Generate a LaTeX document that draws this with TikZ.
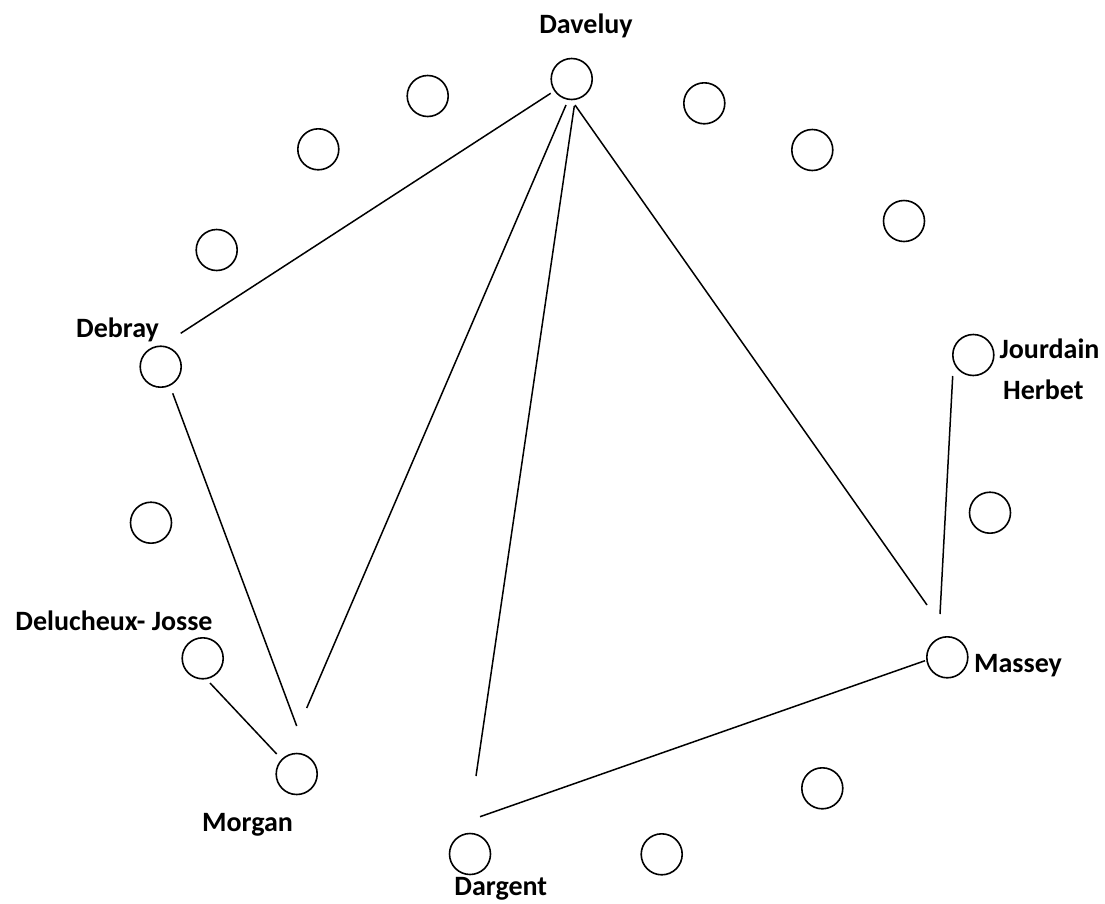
\documentclass[tikz,border=0pt]{standalone}
\usepackage{fontspec}
\setmainfont{Carlito}
\usetikzlibrary{calc}
\begin{document}
\begin{tikzpicture}[x=1pt,y=-1pt,
  actor/.style={circle,draw,line width=1.6pt,minimum size=41pt,inner sep=0pt},
  tie/.style={line width=1.5pt},
  lbl/.style={anchor=base,inner sep=0pt,font=\fontsize{28}{32}\selectfont\bfseries}]
\useasboundingbox (0,0) rectangle (1105,903);
% circles
\node[actor] (dav) at (571.7,79) {};
\node[actor] (c1) at (427.7,96) {};
\node[actor] (c2) at (318.3,149.3) {};
\node[actor] (c3) at (216.7,250) {};
\node[actor] (deb) at (160.7,366.7) {};
\node[actor] (c4) at (151,522.7) {};
\node[actor] (del) at (202.7,658.3) {};
\node[actor] (mor) at (296.7,774) {};
\node[actor] (dar) at (470,854) {};
\node[actor] (c5) at (661.7,854.3) {};
\node[actor] (c6) at (822.3,788.3) {};
\node[actor] (mas) at (947.3,657.3) {};
\node[actor] (c7) at (990,512.7) {};
\node[actor] (jou) at (973.3,355) {};
\node[actor] (c8) at (904,221) {};
\node[actor] (c9) at (812.3,150) {};
\node[actor] (c10) at (704.3,103.3) {};
% labels
\node[lbl] (ldav) at (586,33.3) {Daveluy};
\node[lbl] (ldeb) at (117.5,337.3) {Debray};
\node[lbl] (ldel) at (114,630.7) {Delucheux- Josse};
\node[lbl] (lmor) at (247.5,831.7) {Morgan};
\node[lbl] (ldar) at (500.8,895.5) {Dargent};
\node[lbl] (lmas) at (1018,672.7) {Massey};
\node[lbl] (ljou) at (1049.5,358.3) {Jourdain};
\node[lbl] (lher) at (1043.3,399.3) {Herbet};
% ties
\draw[tie] ($(dav)+(-21,14.3)$) -- ($(deb)+(20,-33.4)$);
\draw[tie] ($(dav)+(-5.7,26)$) -- ($(mor)+(10,-66)$);
\draw[tie] ($(dav)+(2.6,27)$) -- ($(dar)+(6,-78)$);
\draw[tie] ($(dav)+(3.3,26)$) -- ($(mas)+(-20.3,-52.3)$);
\draw[tie] ($(deb)+(12,26.6)$) -- ($(mor)+(0,-48)$);
\draw[tie] ($(del)+(7.3,24.7)$) -- ($(mor)+(-20,-20)$);
\draw[tie] ($(jou)+(-20.6,21)$) -- ($(mas)+(-7.3,-43.3)$);
\draw[tie] ($(dar)+(10,-37.3)$) -- ($(mas)+(-22.3,3.4)$);
\end{tikzpicture}
\end{document}
